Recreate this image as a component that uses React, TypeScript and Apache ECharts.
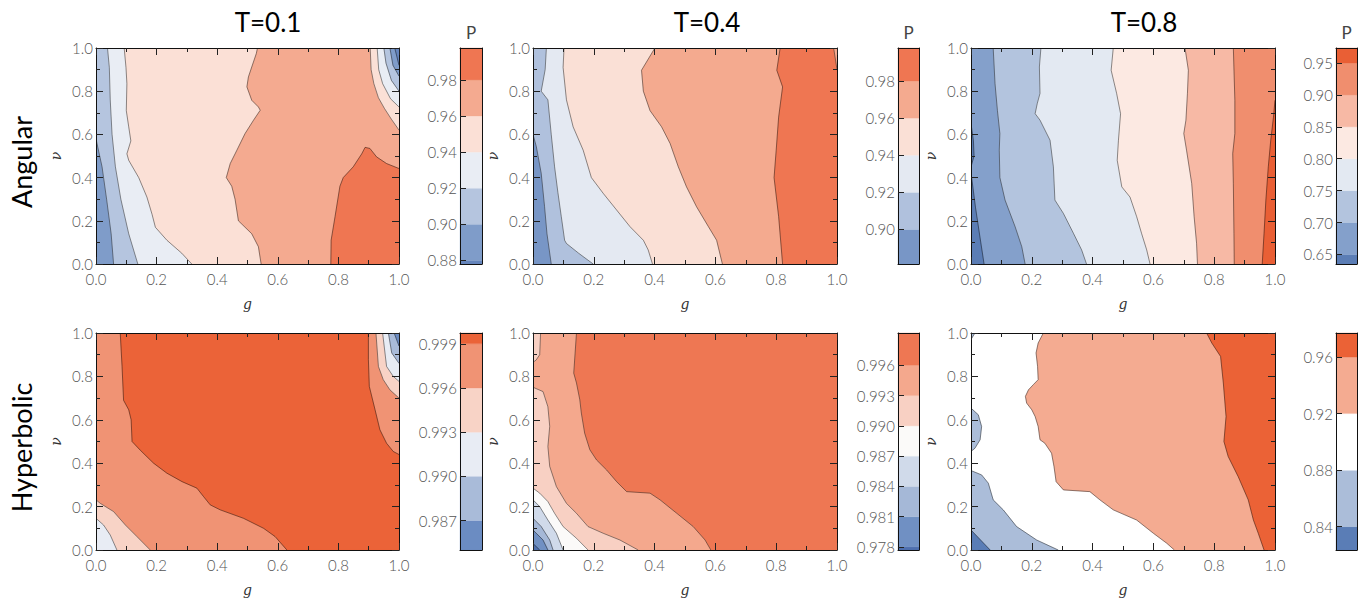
import React, { useEffect, useRef } from "react";
import * as echarts from "echarts";

type Pt = number[];

// ---------- text ----------
const titles = ["T=0.1", "T=0.4", "T=0.8"];
const rowNames = ["Angular", "Hyperbolic"];
const colorbarTitle = "P";

// ---------- Angular, T=0.1 ----------
const a1Levels = [0.88, 0.9, 0.92, 0.94, 0.96, 0.98];
const a1Range = [0.878, 0.9977];
const a1_l090: Pt[] = [[0.058, 0], [0.05, 0.14], [0.035, 0.3], [0.02, 0.45], [0.006, 0.54], [0, 0.58]];
const a1_l092: Pt[] = [[0.038, 1], [0.044, 0.91], [0.047, 0.76], [0.053, 0.6], [0.064, 0.45], [0.082, 0.3], [0.108, 0.14], [0.138, 0]];
const a1_l094: Pt[] = [[0.093, 1], [0.099, 0.91], [0.102, 0.835], [0.1, 0.71], [0.108, 0.635], [0.115, 0.57], [0.102, 0.51], [0.108, 0.48], [0.141, 0.4], [0.168, 0.31], [0.185, 0.23], [0.196, 0.17], [0.234, 0.11], [0.283, 0.05], [0.316, 0]];
const a1_l096: Pt[] = [[0.533, 1], [0.529, 0.974], [0.514, 0.912], [0.503, 0.866], [0.498, 0.82], [0.514, 0.758], [0.536, 0.727], [0.542, 0.712], [0.52, 0.666], [0.492, 0.604], [0.465, 0.527], [0.443, 0.465], [0.43, 0.4], [0.448, 0.36], [0.459, 0.3], [0.47, 0.2], [0.514, 0.14], [0.536, 0.08], [0.545, 0]];
const a1_l098: Pt[] = [[0.775, 0], [0.776, 0.11], [0.789, 0.22], [0.805, 0.36], [0.816, 0.4], [0.849, 0.45], [0.877, 0.51], [0.888, 0.54], [0.904, 0.535], [0.926, 0.496], [0.959, 0.465], [1, 0.442]];
const a1_c096: Pt[] = [[0.905, 1], [0.908, 0.9], [0.917, 0.835], [0.932, 0.77], [0.952, 0.72], [0.975, 0.67], [1, 0.62]];
const a1_c094: Pt[] = [[0.928, 1], [0.933, 0.9], [0.946, 0.835], [0.972, 0.765], [1, 0.727]];
const a1_c092: Pt[] = [[0.95, 1], [0.957, 0.93], [0.975, 0.85], [1, 0.8]];
const a1_c090: Pt[] = [[0.97, 1], [0.98, 0.92], [1, 0.87]];
const a1_c088: Pt[] = [[0.986, 1], [1, 0.92]];

// ---------- Angular, T=0.4 ----------
const a2Levels = [0.9, 0.92, 0.94, 0.96, 0.98];
const a2Range = [0.8814, 0.9978];
const a2_l090: Pt[] = [[0.06, 0], [0.046, 0.14], [0.038, 0.266], [0.027, 0.42], [0.011, 0.543], [0, 0.6]];
const a2_l092: Pt[] = [[0.044, 1], [0.04, 0.9], [0.027, 0.8], [0.049, 0.76], [0.06, 0.6], [0.071, 0.45], [0.082, 0.33], [0.093, 0.22], [0.104, 0.11], [0.11, 0.095], [0.15, 0.05], [0.198, 0]];
const a2_l094: Pt[] = [[0.102, 1], [0.099, 0.91], [0.11, 0.76], [0.132, 0.635], [0.165, 0.527], [0.192, 0.4], [0.231, 0.327], [0.275, 0.25], [0.319, 0.173], [0.363, 0.11], [0.379, 0.065], [0.393, 0]];
const a2_l096: Pt[] = [[0.401, 1], [0.357, 0.897], [0.363, 0.8], [0.385, 0.71], [0.423, 0.635], [0.451, 0.558], [0.478, 0.45], [0.505, 0.357], [0.538, 0.265], [0.577, 0.173], [0.604, 0.11], [0.623, 0]];
const a2_l098: Pt[] = [[0.813, 1], [0.802, 0.897], [0.821, 0.82], [0.808, 0.68], [0.8, 0.527], [0.793, 0.4], [0.808, 0.22], [0.821, 0]];
const a2_c098: Pt[] = [[0.989, 1], [1, 0.9]];

// ---------- Angular, T=0.8 ----------
const a3Levels = [0.65, 0.7, 0.75, 0.8, 0.85, 0.9, 0.95];
const a3Range = [0.635, 0.9736];
const a3_l065: Pt[] = [[0.043, 0], [0.03, 0.12], [0.015, 0.26], [0.004, 0.38], [0, 0.42]];
const a3_l065b: Pt[] = [[0, 0.65], [0.008, 0.57], [0.01, 0.5], [0, 0.45]];
const a3_l070: Pt[] = [[0.073, 1], [0.079, 0.835], [0.087, 0.71], [0.095, 0.604], [0.093, 0.527], [0.095, 0.4], [0.112, 0.296], [0.145, 0.173], [0.167, 0.08], [0.178, 0]];
const a3_l075: Pt[] = [[0.23, 1], [0.225, 0.912], [0.227, 0.79], [0.218, 0.743], [0.211, 0.696], [0.227, 0.666], [0.26, 0.573], [0.271, 0.45], [0.276, 0.296], [0.304, 0.234], [0.337, 0.142], [0.364, 0.065], [0.38, 0]];
const a3_l080: Pt[] = [[0.468, 1], [0.461, 0.897], [0.479, 0.79], [0.492, 0.696], [0.485, 0.573], [0.481, 0.48], [0.496, 0.357], [0.523, 0.31], [0.545, 0.219], [0.561, 0.142], [0.578, 0.065], [0.589, 0]];
const a3_l085: Pt[] = [[0.704, 1], [0.715, 0.897], [0.712, 0.79], [0.707, 0.666], [0.7, 0.604], [0.709, 0.527], [0.726, 0.373], [0.734, 0.219], [0.742, 0.096], [0.745, 0]];
const a3_l090: Pt[] = [[0.863, 1], [0.868, 0.758], [0.868, 0.604], [0.861, 0.512], [0.863, 0.373], [0.865, 0.142], [0.866, 0]];
const a3_l095: Pt[] = [[0.958, 0], [0.964, 0.142], [0.97, 0.296], [0.978, 0.45], [0.986, 0.573], [0.995, 0.68], [1, 0.758]];

// ---------- Hyperbolic, T=0.1 ----------
const h1Levels = [0.987, 0.99, 0.993, 0.996, 0.999];
const h1Range = [0.985, 0.99973];
const h1_l999a: Pt[] = [[0.08, 1], [0.086, 0.846], [0.091, 0.69], [0.108, 0.646], [0.116, 0.6], [0.119, 0.5], [0.146, 0.46], [0.19, 0.4], [0.234, 0.354], [0.284, 0.315], [0.333, 0.285], [0.355, 0.246], [0.377, 0.208], [0.41, 0.185], [0.487, 0.146], [0.553, 0.1], [0.591, 0.062], [0.63, 0]];
const h1_l999b: Pt[] = [[1, 0.44], [0.981, 0.454], [0.959, 0.492], [0.937, 0.554], [0.921, 0.646], [0.902, 0.754], [0.899, 0.877], [0.899, 1]];
const h1_c996: Pt[] = [[0.924, 1], [0.932, 0.846], [0.948, 0.785], [0.97, 0.738], [1, 0.7]];
const h1_c993: Pt[] = [[0.946, 1], [0.959, 0.846], [0.981, 0.8], [1, 0.777]];
const h1_c990: Pt[] = [[0.965, 1], [0.976, 0.908], [1, 0.86]];
const h1_c987: Pt[] = [[0.984, 1], [1, 0.94]];
const h1_b996: Pt[] = [[0, 0.231], [0.014, 0.215], [0.058, 0.177], [0.097, 0.115], [0.135, 0.062], [0.179, 0]];
const h1_b993: Pt[] = [[0, 0.146], [0.025, 0.115], [0.047, 0.069], [0.069, 0]];

// ---------- Hyperbolic, T=0.4 ----------
const h2Levels = [0.978, 0.981, 0.984, 0.987, 0.99, 0.993, 0.996];
const h2Range = [0.9777, 0.9992];
const h2_l996: Pt[] = [[0.143, 1], [0.134, 0.815], [0.143, 0.77], [0.154, 0.692], [0.159, 0.631], [0.17, 0.538], [0.187, 0.462], [0.209, 0.415], [0.242, 0.369], [0.275, 0.315], [0.308, 0.269], [0.385, 0.262], [0.418, 0.231], [0.473, 0.169], [0.527, 0.108], [0.566, 0.046], [0.585, 0]];
const h2_l993: Pt[] = [[0, 0.75], [0.033, 0.73], [0.049, 0.66], [0.055, 0.57], [0.049, 0.477], [0.055, 0.385], [0.077, 0.292], [0.11, 0.215], [0.143, 0.169], [0.181, 0.108], [0.231, 0.077], [0.286, 0.046], [0.346, 0]];
const h2_t993: Pt[] = [[0.025, 1], [0.022, 0.9], [0.01, 0.875], [0, 0.865]];
const h2_l990: Pt[] = [[0, 0.285], [0.022, 0.262], [0.049, 0.223], [0.071, 0.169], [0.099, 0.108], [0.143, 0.054], [0.181, 0]];
const h2_l987: Pt[] = [[0, 0.231], [0.022, 0.2], [0.049, 0.138], [0.077, 0.077], [0.099, 0]];
const h2_l984: Pt[] = [[0, 0.146], [0.027, 0.108], [0.055, 0.046], [0.066, 0]];
const h2_l981: Pt[] = [[0, 0.092], [0.033, 0.046], [0.049, 0]];
const h2_l978: Pt[] = [[0, 0.03], [0.022, 0]];

// ---------- Hyperbolic, T=0.8 ----------
const h3Levels = [0.84, 0.88, 0.92, 0.96];
const h3Range = [0.8235, 0.977];
const h3_l092: Pt[] = [[0.238, 1], [0.221, 0.954], [0.214, 0.908], [0.219, 0.846], [0.221, 0.785], [0.205, 0.762], [0.189, 0.738], [0.179, 0.708], [0.183, 0.677], [0.2, 0.646], [0.211, 0.615], [0.221, 0.569], [0.227, 0.508], [0.243, 0.492], [0.265, 0.446], [0.273, 0.385], [0.28, 0.315], [0.304, 0.277], [0.391, 0.269], [0.424, 0.231], [0.468, 0.185], [0.545, 0.138], [0.6, 0.077], [0.644, 0.031], [0.669, 0]];
const h3_l096: Pt[] = [[0.775, 1], [0.792, 0.954], [0.821, 0.892], [0.83, 0.77], [0.839, 0.615], [0.832, 0.5], [0.846, 0.431], [0.879, 0.338], [0.912, 0.231], [0.929, 0.138], [0.945, 0.077], [0.964, 0]];
const h3_l088a: Pt[] = [[0, 0.366], [0.035, 0.346], [0.057, 0.308], [0.073, 0.231], [0.106, 0.185], [0.15, 0.108], [0.216, 0.046], [0.287, 0]];
const h3_l088b: Pt[] = [[0, 0.654], [0.024, 0.623], [0.035, 0.569], [0.03, 0.508], [0.013, 0.469], [0, 0.454]];
const h3_l088c: Pt[] = [[0.013, 1], [0, 0.97]];
const h3_l084: Pt[] = [[0, 0.092], [0.063, 0]];

// ---------- styles ----------
const a1Colors = ["#6585bc", "#7f9cc9", "#b5c5df", "#e9edf4", "#fbe0d6", "#f4aa90", "#ef7652"];
const a2Colors = ["#7896c6", "#b0c1dd", "#e4e9f2", "#fae0d6", "#f4aa8f", "#ef7652"];
const a3Colors = ["#5b7db5", "#84a0cb", "#b3c4de", "#e3e9f2", "#fce9e2", "#f7b9a5", "#f08e6e", "#e95f35"];
const h1Colors = ["#6b8cc2", "#a9bbd9", "#e8ecf4", "#f8d3c6", "#f09374", "#eb6338"];
const h2Colors = ["#4e6fae", "#7090c3", "#a5b8d7", "#d0daea", "#fbfaf9", "#f8d0c3", "#f4a88d", "#ee7753"];
const h3Colors = ["#5a7db6", "#abbdd9", "#ffffff", "#f4ab91", "#eb6236"];

const colLeft = [96, 533, 971];
const colW = [303, 304, 304];
const cbLeft = [460, 898, 1336];
const cbW = [22, 21, 21];
const rowTop = [48, 333];
const rowH = [216, 217];
const titleX = [268, 707, 1144];

const box: Pt[] = [[0, 0], [1, 0], [1, 1], [0, 1]];

interface Patch { band: number; pts: Pt[] }
interface Panel {
  levels: number[]; range: number[]; decimals: number; colors: string[];
  lines: Pt[][]; patches: Patch[];
}

const panels: Panel[] = [
  {
    levels: a1Levels, range: a1Range, decimals: 2, colors: a1Colors,
    lines: [a1_l090, a1_l092, a1_l094, a1_l096, a1_l098, a1_c096, a1_c094, a1_c092, a1_c090, a1_c088],
    patches: [
      { band: 1, pts: box },
      { band: 2, pts: [...a1_l090, [0, 1], [1, 1], [1, 0]] },
      { band: 3, pts: [...a1_l092, [1, 0], [1, 1]] },
      { band: 4, pts: [...a1_l094, [1, 0], [1, 1]] },
      { band: 5, pts: [...a1_l096, [1, 0], [1, 1]] },
      { band: 6, pts: [...a1_l098, [1, 0]] },
      { band: 4, pts: [...a1_c096, [1, 1]] },
      { band: 3, pts: [...a1_c094, [1, 1]] },
      { band: 2, pts: [...a1_c092, [1, 1]] },
      { band: 1, pts: [...a1_c090, [1, 1]] },
      { band: 0, pts: [...a1_c088, [1, 1]] },
    ],
  },
  {
    levels: a2Levels, range: a2Range, decimals: 2, colors: a2Colors,
    lines: [a2_l090, a2_l092, a2_l094, a2_l096, a2_l098, a2_c098],
    patches: [
      { band: 0, pts: box },
      { band: 1, pts: [...a2_l090, [0, 1], [1, 1], [1, 0]] },
      { band: 2, pts: [...a2_l092, [1, 0], [1, 1]] },
      { band: 3, pts: [...a2_l094, [1, 0], [1, 1]] },
      { band: 4, pts: [...a2_l096, [1, 0], [1, 1]] },
      { band: 5, pts: [...a2_l098, [1, 0], [1, 1]] },
      { band: 4, pts: [...a2_c098, [1, 1]] },
    ],
  },
  {
    levels: a3Levels, range: a3Range, decimals: 2, colors: a3Colors,
    lines: [a3_l065, a3_l065b, a3_l070, a3_l075, a3_l080, a3_l085, a3_l090, a3_l095],
    patches: [
      { band: 1, pts: box },
      { band: 0, pts: [...a3_l065, [0, 0]] },
      { band: 0, pts: a3_l065b },
      { band: 2, pts: [...a3_l070, [1, 0], [1, 1]] },
      { band: 3, pts: [...a3_l075, [1, 0], [1, 1]] },
      { band: 4, pts: [...a3_l080, [1, 0], [1, 1]] },
      { band: 5, pts: [...a3_l085, [1, 0], [1, 1]] },
      { band: 6, pts: [...a3_l090, [1, 0], [1, 1]] },
      { band: 7, pts: [...a3_l095, [1, 0]] },
    ],
  },
  {
    levels: h1Levels, range: h1Range, decimals: 3, colors: h1Colors,
    lines: [h1_l999a, h1_l999b, h1_c996, h1_c993, h1_c990, h1_c987, h1_b996, h1_b993],
    patches: [
      { band: 4, pts: box },
      { band: 5, pts: [...h1_l999a, [1, 0], ...h1_l999b] },
      { band: 3, pts: [...h1_c996, [1, 1]] },
      { band: 2, pts: [...h1_c993, [1, 1]] },
      { band: 1, pts: [...h1_c990, [1, 1]] },
      { band: 0, pts: [...h1_c987, [1, 1]] },
      { band: 3, pts: [...h1_b996, [0, 0]] },
      { band: 2, pts: [...h1_b993, [0, 0]] },
    ],
  },
  {
    levels: h2Levels, range: h2Range, decimals: 3, colors: h2Colors,
    lines: [h2_l996, h2_l993, h2_t993, h2_l990, h2_l987, h2_l984, h2_l981, h2_l978],
    patches: [
      { band: 7, pts: box },
      { band: 6, pts: [...h2_l996, [0, 0], [0, 1]] },
      { band: 5, pts: [...h2_l993, [0, 0]] },
      { band: 5, pts: [...h2_t993, [0, 1]] },
      { band: 4, pts: [...h2_l990, [0, 0]] },
      { band: 3, pts: [...h2_l987, [0, 0]] },
      { band: 2, pts: [...h2_l984, [0, 0]] },
      { band: 1, pts: [...h2_l981, [0, 0]] },
      { band: 0, pts: [...h2_l978, [0, 0]] },
    ],
  },
  {
    levels: h3Levels, range: h3Range, decimals: 2, colors: h3Colors,
    lines: [h3_l092, h3_l096, h3_l088a, h3_l088b, h3_l088c, h3_l084],
    patches: [
      { band: 2, pts: box },
      { band: 3, pts: [...h3_l092, [1, 0], [1, 1]] },
      { band: 4, pts: [...h3_l096, [1, 0], [1, 1]] },
      { band: 1, pts: [...h3_l088a, [0, 0]] },
      { band: 1, pts: h3_l088b },
      { band: 1, pts: [...h3_l088c, [0, 1]] },
      { band: 0, pts: [...h3_l084, [0, 0]] },
    ],
  },
];

const LABEL_FONT = { fontFamily: "Lato", fontWeight: 300 as any, fontSize: 15, color: "#555" };
const frameLine = { show: true, onZero: false, lineStyle: { color: "#111", width: 1 } };
const tickStyle = { color: "#222", width: 1 };

function buildOption() {
  const grid: any[] = [];
  const xAxis: any[] = [];
  const yAxis: any[] = [];
  const series: any[] = [];

  panels.forEach((p, k) => {
    const r = Math.floor(k / 3);
    const c = k % 3;
    // ---- contour panel ----
    let gi = grid.length;
    grid.push({ left: colLeft[c], top: rowTop[r], width: colW[c], height: rowH[r] });
    const xi = xAxis.length;
    const commonX = {
      gridIndex: gi, type: "value", min: 0, max: 1, interval: 0.2, z: 5,
      axisLine: frameLine,
      axisTick: { show: true, inside: true, length: 7, lineStyle: tickStyle },
      minorTick: { show: true, splitNumber: 2, length: 4, lineStyle: tickStyle },
      splitLine: { show: false }, minorSplitLine: { show: false },
    };
    xAxis.push({
      ...commonX, position: "bottom",
      name: "g", nameLocation: "middle", nameGap: 33,
      nameTextStyle: { fontFamily: "DejaVu Serif", fontStyle: "italic", fontSize: 14, color: "#333" },
      axisLabel: { ...LABEL_FONT, margin: 7, formatter: (v: number) => v.toFixed(1) },
    });
    xAxis.push({ ...commonX, position: "top", axisLabel: { show: false } });
    const yi = yAxis.length;
    yAxis.push({
      ...commonX, position: "left",
      name: "ν", nameLocation: "middle", nameGap: 33,
      nameTextStyle: { fontFamily: "DejaVu Serif", fontStyle: "italic", fontSize: 14, color: "#333" },
      axisLabel: { ...LABEL_FONT, margin: 3, formatter: (v: number) => v.toFixed(1) },
    });
    yAxis.push({ ...commonX, position: "right", axisLabel: { show: false } });

    series.push({
      type: "custom", xAxisIndex: xi, yAxisIndex: yi, clip: true, z: 1, silent: true,
      data: p.patches.map((_, i) => [i]),
      renderItem: (params: any, api: any) => {
        const pa = p.patches[params.dataIndex];
        return {
          type: "polygon",
          shape: { points: pa.pts.map((q) => api.coord(q)) },
          style: { fill: p.colors[pa.band], stroke: p.colors[pa.band], lineWidth: 0.3 },
        };
      },
    });
    series.push({
      type: "custom", xAxisIndex: xi, yAxisIndex: yi, clip: true, z: 2, silent: true,
      data: p.lines.map((_, i) => [i]),
      renderItem: (params: any, api: any) => {
        const ln = p.lines[params.dataIndex];
        return {
          type: "polyline",
          shape: { points: ln.map((q) => api.coord(q)) },
          style: { fill: "none", stroke: "rgba(0,0,0,0.55)", lineWidth: 0.8 },
        };
      },
    });

    // ---- colorbar ----
    gi = grid.length;
    grid.push({ left: cbLeft[c], top: rowTop[r], width: cbW[c], height: rowH[r] });
    const cxi = xAxis.length;
    const cbX = {
      gridIndex: gi, type: "value", min: 0, max: 1, z: 5, axisLine: frameLine,
      axisTick: { show: false }, axisLabel: { show: false }, splitLine: { show: false },
    };
    xAxis.push({ ...cbX, position: "bottom" });
    xAxis.push({ ...cbX, position: "top" });
    const cyi = yAxis.length;
    const ticks = p.levels.filter((v) => v >= p.range[0] && v <= p.range[1]);
    yAxis.push({
      gridIndex: gi, type: "value", min: p.range[0], max: p.range[1], position: "left", z: 5,
      axisLine: frameLine, splitLine: { show: false },
      axisTick: { show: true, inside: true, length: 6, lineStyle: tickStyle, customValues: ticks },
      axisLabel: { ...LABEL_FONT, margin: 3, customValues: ticks, formatter: (v: number) => v.toFixed(p.decimals) },
    });
    yAxis.push({
      gridIndex: gi, type: "value", min: p.range[0], max: p.range[1], position: "right", z: 5,
      axisLine: frameLine, splitLine: { show: false }, axisTick: { show: false }, axisLabel: { show: false },
    });
    const bounds = [p.range[0], ...ticks, p.range[1]];
    const bands = bounds.slice(0, -1).map((lo, i) => [lo, bounds[i + 1], i]);
    series.push({
      type: "custom", xAxisIndex: cxi, yAxisIndex: cyi, z: 1, silent: true,
      data: bands,
      renderItem: (params: any, api: any) => {
        const b = bands[params.dataIndex];
        const p0 = api.coord([0, b[0]]);
        const p1 = api.coord([1, b[1]]);
        return {
          type: "rect",
          shape: { x: p0[0], y: p1[1], width: p1[0] - p0[0], height: p0[1] - p1[1] },
          style: { fill: p.colors[b[2]], stroke: p.colors[b[2]], lineWidth: 0.3 },
        };
      },
    });
  });

  const graphic: any[] = [];
  titles.forEach((t, c) => {
    graphic.push({
      type: "text", x: titleX[c], y: 22,
      style: { text: t, fontFamily: "Lato", fontSize: 26, fill: "#000", align: "center", verticalAlign: "middle" },
    });
    graphic.push({
      type: "text", x: cbLeft[c] + cbW[c] / 2, y: 32,
      style: { text: colorbarTitle, fontFamily: "Lato", fontSize: 17, fill: "#444", align: "center", verticalAlign: "middle" },
    });
  });
  rowNames.forEach((t, r) => {
    graphic.push({
      type: "text", x: 21, y: rowTop[r] + rowH[r] / 2 + 6, rotation: Math.PI / 2,
      style: { text: t, fontFamily: "Lato", fontSize: 27, fill: "#000", align: "center", verticalAlign: "middle" },
    });
  });

  return { animation: false, backgroundColor: "#fff", grid, xAxis, yAxis, series, graphic };
}

export default function App() {
  const ref = useRef<HTMLDivElement>(null);
  useEffect(() => {
    if (!ref.current) return;
    const chart = echarts.init(ref.current, undefined, { renderer: "svg" });
    chart.setOption(buildOption() as any);
    return () => chart.dispose();
  }, []);
  return (
    <div
      ref={ref}
      style={{ position: "absolute", left: 0, top: 0, width: 1368, height: 598, background: "#fff" }}
    />
  );
}
